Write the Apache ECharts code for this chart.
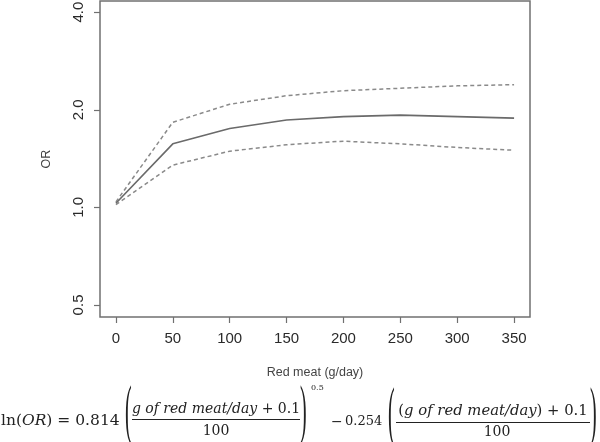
<!DOCTYPE html>
<html><head><meta charset="utf-8">
<script src="https://cdn.jsdelivr.net/npm/echarts@6/dist/echarts.min.js"></script>
<style>html,body{margin:0;padding:0;background:#fff}#c{width:600px;height:442px}</style>
</head><body><div id="c"></div>
<script>
// Red meat intake (g/day)
const meat = [0, 50, 100, 150, 200, 250, 300, 350];
// Odds ratio estimate and 95% CI
const orEstimate = [1.03, 1.57, 1.75, 1.86, 1.905, 1.925, 1.905, 1.885];
const orUpper    = [1.04, 1.83, 2.08, 2.21, 2.29, 2.33, 2.37, 2.39];
const orLower    = [1.02, 1.35, 1.49, 1.56, 1.60, 1.57, 1.53, 1.50];
// Tick labels
const xTicks = [0, 50, 100, 150, 200, 250, 300, 350];
const yTicks = [0.5, 1, 2, 4];

const chart = echarts.init(document.getElementById('c'), null, {renderer: 'canvas'});
const pairs = arr => meat.map((m, i) => [m, arr[i]]);
const sans = '"Liberation Sans", Arial, sans-serif';
const serif = '"DejaVu Serif", serif';
const parenFont = '20px "Liberation Serif", serif';
const ink = '#222';
const paren = (ch, x, y) => ({type: 'text', x: x, y: y, scaleY: 3.3, scaleX: 1,
  style: {text: ch, font: parenFont, fill: ink, verticalAlign: 'middle', align: 'left'}});

const option = {
  animation: false,
  backgroundColor: '#fff',
  grid: {
    left: 100, top: 1, width: 430, height: 316,
    show: true, borderColor: '#707070', borderWidth: 1.5,
    backgroundColor: 'transparent', outerBoundsMode: 'none', containLabel: false
  },
  xAxis: {
    type: 'value', min: -14, max: 364,
    axisLine: {show: false, onZero: false}, splitLine: {show: false},
    axisTick: {show: true, customValues: xTicks, length: 6, lineStyle: {color: '#707070', width: 1.2}},
    axisLabel: {customValues: xTicks, fontSize: 15, color: '#2a2a2a', margin: 14, fontFamily: sans},
    name: 'Red meat (g/day)', nameLocation: 'middle', nameGap: 49, nameMoveOverlap: false,
    nameTextStyle: {fontSize: 12.5, color: '#444', fontFamily: sans}
  },
  yAxis: {
    type: 'log', logBase: 2, min: 0.459, max: 4.33,
    axisLine: {show: false, onZero: false}, splitLine: {show: false},
    axisTick: {show: true, customValues: yTicks, length: 6, lineStyle: {color: '#707070', width: 1.2}},
    axisLabel: {customValues: yTicks, rotate: 90, fontSize: 15, color: '#2a2a2a', margin: 14, fontFamily: sans,
      formatter: v => Number(v).toFixed(1)},
    name: 'OR', nameLocation: 'middle', nameGap: 47, nameRotate: 90, nameMoveOverlap: false,
    nameTextStyle: {fontSize: 12.5, color: '#444', fontFamily: sans}
  },
  series: [
    {type: 'line', name: 'upper', data: pairs(orUpper), symbol: 'none', silent: true,
     lineStyle: {color: '#8a8a8a', width: 1.5, type: [4, 3]}},
    {type: 'line', name: 'lower', data: pairs(orLower), symbol: 'none', silent: true,
     lineStyle: {color: '#8a8a8a', width: 1.5, type: [4, 3]}},
    {type: 'line', name: 'estimate', data: pairs(orEstimate), symbol: 'none', silent: true,
     lineStyle: {color: '#6a6a6a', width: 1.6}}
  ],
  graphic: [
    {type: 'text', x: 1, y: 421, style: {
      text: '{u|ln(}{i|OR}{u|) = 0.814}', fill: ink, verticalAlign: 'middle', align: 'left',
      rich: {u: {fontFamily: serif, fontSize: 15.5, fill: ink}, i: {fontFamily: serif, fontSize: 15.5, fontStyle: 'italic', fill: ink}}}},
    paren('(', 125, 414),
    {type: 'text', x: 216, y: 409, style: {
      text: '{i|g of red meat/day}{u| + 0.1}', fill: ink, verticalAlign: 'middle', align: 'center',
      rich: {u: {fontFamily: serif, fontSize: 14, fill: ink}, i: {fontFamily: serif, fontSize: 14, fontStyle: 'italic', fill: ink}}}},
    {type: 'line', shape: {x1: 132, y1: 419.5, x2: 300, y2: 419.5}, style: {stroke: ink, lineWidth: 1}},
    {type: 'text', x: 216, y: 431, style: {text: '100', font: '14px ' + serif, fill: ink, verticalAlign: 'middle', align: 'center'}},
    paren(')', 300, 414),
    {type: 'text', x: 311, y: 388, style: {text: '0.5', font: '8px ' + serif, fill: ink, verticalAlign: 'middle', align: 'left'}},
    {type: 'text', x: 331, y: 422, style: {text: '\u2212', font: '14px ' + serif, fill: ink, verticalAlign: 'middle', align: 'left'}},
    {type: 'text', x: 345, y: 422, style: {text: '0.254', font: '13px ' + serif, fill: ink, verticalAlign: 'middle', align: 'left'}},
    paren('(', 388, 416),
    {type: 'text', x: 493, y: 411, style: {
      text: '{u|(}{i|g of red meat/day}{u|) + 0.1}', fill: ink, verticalAlign: 'middle', align: 'center',
      rich: {u: {fontFamily: serif, fontSize: 14.8, fill: ink}, i: {fontFamily: serif, fontSize: 14.8, fontStyle: 'italic', fill: ink}}}},
    {type: 'line', shape: {x1: 396, y1: 422.5, x2: 590, y2: 422.5}, style: {stroke: ink, lineWidth: 1}},
    {type: 'text', x: 497, y: 432, style: {text: '100', font: '14px ' + serif, fill: ink, verticalAlign: 'middle', align: 'center'}},
    paren(')', 590, 416)
  ]
};
chart.setOption(option);
</script>
</body></html>
